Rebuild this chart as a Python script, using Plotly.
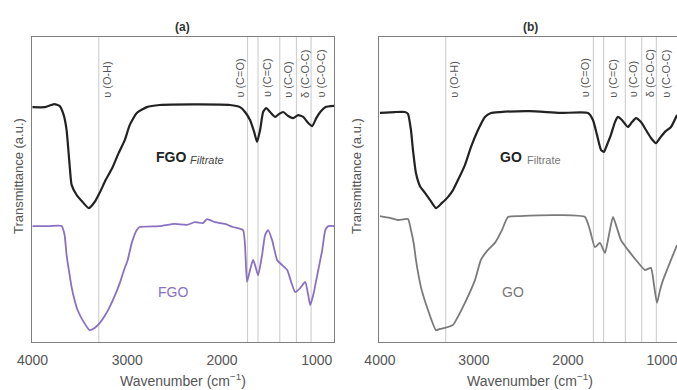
import plotly.graph_objects as go

# ---------------- data (wavenumber cm^-1, transmittance a.u.) ----------------
fgo_filtrate_wn = [4000, 3870, 3770, 3715, 3670, 3640, 3608, 3587, 3534, 3471, 3407, 3344, 3291, 3228,
                   3153, 3090, 3026, 2974, 2899, 2794, 2656, 2233, 1915, 1810, 1757, 1704, 1661, 1630,
                   1598, 1566, 1534, 1492, 1439, 1397, 1354, 1302, 1249, 1196, 1143, 1090, 1048, 1005,
                   963, 910, 815]
fgo_filtrate_t = [77.0, 77.0, 78.0, 77.4, 74.4, 69.5, 58.0, 51.5, 48.2, 45.9, 43.9, 45.9, 48.9, 53.1,
                  57.4, 62.0, 66.2, 71.1, 75.1, 77.0, 77.7, 77.9, 77.7, 77.0, 75.4, 72.8, 68.9, 65.6,
                  69.5, 75.4, 76.7, 75.4, 73.8, 74.8, 75.4, 74.1, 73.4, 74.4, 73.8, 71.8, 70.8, 73.4,
                  75.4, 77.0, 77.4]

fgo_wn = [4000, 3820, 3693, 3661, 3640, 3608, 3587, 3556, 3524, 3460, 3397, 3344, 3291, 3238, 3185,
          3132, 3079, 3037, 2995, 2952, 2899, 2868, 2656, 2500, 2370, 2286, 2200, 2159, 2074, 1968,
          1884, 1778, 1757, 1736, 1704, 1672, 1651, 1619, 1577, 1545, 1513, 1471, 1418, 1365, 1312,
          1270, 1228, 1175, 1122, 1090, 1069, 1037, 1005, 984, 942, 910, 878, 815]
fgo_t = [38.0, 38.0, 38.0, 35.1, 28.5, 22.0, 18.0, 13.8, 10.5, 6.6, 3.9, 4.6, 6.2, 8.5, 11.5,
         15.1, 19.3, 23.3, 26.9, 32.5, 36.7, 37.7, 38.0, 38.7, 38.4, 39.3, 39.0, 40.3, 39.3, 38.7,
         37.7, 36.7, 31.8, 19.7, 23.6, 26.9, 25.2, 21.9, 28.5, 35.1, 36.7, 33.4, 26.9, 25.2, 23.6,
         19.7, 16.4, 17.7, 19.7, 15.4, 12.1, 15.4, 20.3, 23.6, 30.2, 36.7, 38.0, 38.0]

go_filtrate_wn = [4000, 3840, 3734, 3702, 3670, 3649, 3617, 3574, 3521, 3468, 3404, 3340, 3277, 3223,
                  3170, 3096, 3032, 2957, 2883, 2819, 2723, 2404, 2085, 1787, 1734, 1691, 1649, 1617,
                  1585, 1543, 1500, 1468, 1426, 1362, 1319, 1277, 1223, 1170, 1117, 1064, 1021, 968,
                  904, 840]
go_filtrate_t = [75.1, 75.4, 75.4, 74.8, 69.5, 63.0, 55.4, 51.1, 48.9, 46.6, 43.9, 45.6, 47.5, 49.8,
                 53.1, 58.0, 63.9, 69.5, 73.8, 75.1, 75.4, 75.7, 75.1, 75.1, 72.8, 67.9, 63.0, 62.3,
                 64.6, 67.9, 72.1, 73.8, 72.8, 70.5, 72.1, 73.4, 72.1, 69.5, 66.9, 65.2, 66.9, 68.9,
                 70.5, 74.4]

go_wn = [4000, 3894, 3809, 3702, 3670, 3638, 3617, 3564, 3489, 3404, 3362, 3309, 3223, 3160, 3096,
         2989, 2926, 2851, 2777, 2702, 2638, 2511, 2085, 1819, 1766, 1713, 1660, 1606, 1564, 1521,
         1479, 1436, 1362, 1277, 1181, 1117, 1085, 1053, 1021, 989, 947, 904, 840]
go_t = [41.3, 40.7, 40.0, 40.3, 36.7, 31.8, 26.9, 18.0, 10.5, 3.9, 4.3, 4.6, 5.6, 8.9, 12.8,
        20.3, 26.9, 30.2, 32.5, 36.7, 41.0, 41.3, 41.6, 41.0, 36.7, 31.1, 32.5, 29.2, 35.1, 41.0,
        37.4, 33.4, 30.2, 26.9, 23.6, 24.3, 18.7, 12.8, 17.0, 20.3, 23.6, 26.9, 31.8]

band_wn = [3300, 1730, 1620, 1390, 1215, 1060]
band_labels = ["υ (O-H)", "υ (C=O)", "υ (C=C)", "υ (C-O)", "δ (C-O-C)", "υ (C-O-C)"]
band_shift = [8, -8, 9, 8, 8, 9]

x_ticks = [4000, 3000, 2000, 1000]

# ---------------- layout helpers ----------------
W, H = 677, 390
def px(x):
    return x / W
def py(y):
    return 1 - y / H

FONT = "Arial, Liberation Sans, sans-serif"
AXC = "#7f7f7f"
TXT = "#555555"
LINEC = "#c9c9c9"

def line(color, width):
    return dict(color=color, width=width, shape="spline", smoothing=0.5)

fig = go.Figure()
fig.add_trace(go.Scatter(x=fgo_filtrate_wn, y=fgo_filtrate_t, mode="lines",
                         line=line("#222222", 2.2), xaxis="x", yaxis="y", showlegend=False))
fig.add_trace(go.Scatter(x=fgo_wn, y=fgo_t, mode="lines",
                         line=line("#8a70c2", 1.8), xaxis="x", yaxis="y", showlegend=False))
fig.add_trace(go.Scatter(x=go_filtrate_wn, y=go_filtrate_t, mode="lines",
                         line=line("#222222", 2.2), xaxis="x2", yaxis="y2", showlegend=False))
fig.add_trace(go.Scatter(x=go_wn, y=go_t, mode="lines",
                         line=line("#7a7a7a", 1.8), xaxis="x2", yaxis="y2", showlegend=False))

shapes = []
annotations = []
for xr, yr in (("x", "y"), ("x2", "y2")):
    for wn, lab, sh in zip(band_wn, band_labels, band_shift):
        shapes.append(dict(type="line", xref=xr, yref=yr + " domain", x0=wn, x1=wn, y0=0, y1=1,
                           line=dict(color=LINEC, width=1), layer="below"))
        annotations.append(dict(x=wn, y=79.5, xref=xr, yref=yr, text=lab, textangle=-90,
                                showarrow=False, xanchor="center", yanchor="bottom", xshift=sh,
                                font=dict(size=11, color=TXT, family=FONT)))

def pann(x, y, text, size, color, xanchor="center", angle=0):
    return dict(x=px(x), y=py(y), xref="paper", yref="paper", text=text, textangle=angle,
                xanchor=xanchor, yanchor="middle", showarrow=False,
                font=dict(size=size, color=color, family=FONT))

# panel titles
annotations.append(pann(183, 27, "<b>(a)</b>", 12, "#333333"))
annotations.append(pann(530, 27, "<b>(b)</b>", 12, "#333333"))
# y titles
for xx in (19, 357):
    annotations.append(pann(xx, 176, "Transmittance (a.u.)", 13, TXT, angle=-90))
# x titles
for xx in (183, 530):
    annotations.append(pann(xx, 380, "Wavenumber (cm<sup>−1</sup>)", 14, TXT))
# curve labels
annotations += [
    pann(188, 157, "<b>FGO</b>", 14, "#222222", xanchor="right"),
    pann(188, 160, "<i>Filtrate</i>", 11, "#444444", xanchor="left"),
    pann(173, 292, "FGO", 14, "#8a70c2"),
    pann(524, 157, "<b>GO</b>", 14, "#222222", xanchor="right"),
    pann(525, 160, "Filtrate", 11, "#777777", xanchor="left"),
    pann(513, 292, "GO", 14, "#777777"),
]

xcommon = dict(tickvals=x_ticks, ticktext=[str(v) for v in x_ticks], ticks="", showgrid=False,
               zeroline=False, showline=True, linecolor=AXC, linewidth=1.3, mirror=True,
               automargin=False, ticklabeloverflow="allow", ticklabelstandoff=5,
               tickfont=dict(size=14, color=TXT, family=FONT))
ycommon = dict(range=[0, 100], showticklabels=False, ticks="", showgrid=False, zeroline=False,
               automargin=False, showline=True, linecolor=AXC, linewidth=1.3)
ydom = [py(342), py(37)]

fig.update_layout(
    width=W, height=H, margin=dict(l=0, r=0, t=0, b=0, autoexpand=False),
    paper_bgcolor="white", plot_bgcolor="white",
    xaxis=dict(domain=[px(32), px(334)], range=[4005, 818], anchor="y", **xcommon),
    yaxis=dict(domain=ydom, anchor="x", mirror=True, **ycommon),
    xaxis2=dict(domain=[px(379), 1.0], range=[4010, 840], anchor="y2", **xcommon),
    yaxis2=dict(domain=ydom, anchor="x2", mirror=False, **ycommon),
    shapes=shapes, annotations=annotations,
    font=dict(family=FONT),
)

fig.write_html("out.html")
